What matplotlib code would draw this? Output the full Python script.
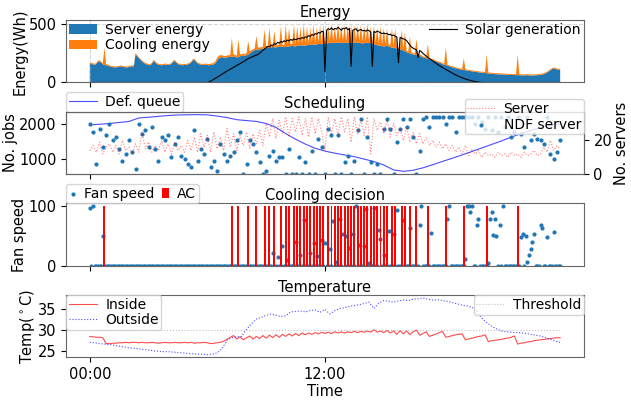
import numpy as np
import matplotlib
matplotlib.use("Agg")
import matplotlib.pyplot as plt

plt.rcParams["font.size"] = 10
plt.rcParams["axes.edgecolor"] = "0.4"
plt.rcParams["xtick.labelsize"] = 10.5
plt.rcParams["ytick.labelsize"] = 10.5
plt.rcParams["axes.titlesize"] = 10.5
plt.rcParams["axes.titlepad"] = 2.5
plt.rcParams["axes.labelsize"] = 10.5
plt.rcParams["axes.labelpad"] = 1

# === DATA (one day, hours since 00:00) ===
t5 = np.arange(289) / 12    # 5-min slots
t10 = np.arange(145) / 6    # 10-min slots
t15 = np.arange(97) / 4     # 15-min slots
t30 = np.arange(49) / 2     # 30-min slots

# energy per 5-min slot (Wh), one row per hour
server_energy = [
    162, 160, 156, 152, 160, 178, 182, 170, 158, 150, 148, 145,
    140, 135, 132, 130, 130, 132, 135, 138, 135, 132, 130, 130,
    132, 135, 138, 140, 242, 228, 210, 195, 180, 170, 160, 155,
    150, 148, 160, 185, 175, 160, 152, 150, 148, 150, 155, 152,
    150, 152, 160, 178, 185, 170, 158, 152, 150, 148, 152, 150,
    155, 160, 170, 190, 195, 178, 165, 158, 152, 150, 152, 155,
    150, 148, 150, 152, 158, 165, 190, 205, 215, 218, 215, 212,
    215, 220, 218, 222, 225, 220, 215, 218, 225, 228, 232, 230,
    235, 240, 250, 262, 270, 278, 282, 285, 284, 288, 290, 292,
    295, 298, 300, 302, 305, 303, 300, 305, 308, 310, 306, 304,
    305, 308, 310, 312, 315, 312, 310, 314, 318, 320, 318, 316,
    318, 320, 322, 325, 328, 326, 324, 328, 330, 332, 330, 328,
    332, 335, 338, 340, 342, 340, 338, 342, 345, 343, 340, 338,
    340, 342, 345, 343, 340, 338, 342, 345, 343, 340, 338, 336,
    338, 340, 342, 340, 336, 334, 330, 325, 320, 318, 315, 312,
    310, 312, 315, 310, 305, 300, 298, 295, 292, 288, 285, 280,
    275, 268, 260, 255, 250, 245, 240, 238, 235, 232, 228, 225,
    215, 212, 208, 205, 200, 196, 192, 186, 180, 175, 170, 165,
    158, 154, 150, 146, 140, 135, 130, 126, 122, 118, 115, 112,
    110, 108, 105, 102, 100, 98, 96, 94, 92, 90, 88, 86,
    85, 84, 82, 80, 78, 76, 75, 74, 72, 72, 70, 70,
    70, 69, 68, 67, 66, 66, 65, 65, 64, 64, 63, 63,
    62, 62, 61, 62, 63, 62, 60, 60, 61, 62, 63, 64,
    65, 68, 72, 78, 85, 95, 105, 115, 120, 118, 112, 110,
    110,
]

cooling_energy = [
    8, 8, 9, 8, 8, 9, 8, 8, 9, 150, 10, 9,
    8, 8, 8, 9, 8, 8, 8, 9, 8, 8, 8, 8,
    8, 9, 8, 8, 9, 8, 8, 8, 9, 8, 8, 8,
    8, 8, 9, 8, 8, 8, 9, 8, 8, 8, 9, 8,
    8, 8, 8, 9, 8, 8, 9, 8, 8, 8, 8, 9,
    8, 9, 8, 8, 8, 9, 8, 8, 9, 8, 8, 8,
    10, 10, 12, 12, 14, 18, 22, 25, 20, 16, 14, 15,
    15, 16, 15, 163, 18, 16, 15, 152, 18, 16, 15, 16,
    16, 116, 18, 16, 15, 16, 118, 17, 16, 15, 16, 165,
    18, 16, 170, 17, 16, 140, 18, 16, 17, 175, 16, 17,
    190, 17, 160, 18, 16, 185, 17, 170, 18, 155, 17, 184,
    18, 160, 17, 150, 18, 170, 17, 145, 18, 155, 17, 165,
    18, 17, 150, 18, 160, 17, 140, 18, 165, 17, 150, 18,
    155, 18, 140, 17, 160, 18, 150, 17, 145, 18, 158, 17,
    150, 18, 160, 17, 145, 18, 155, 17, 150, 18, 165, 17,
    160, 17, 150, 16, 15, 165, 16, 170, 15, 14, 15, 175,
    14, 165, 13, 12, 150, 12, 11, 12, 140, 12, 11, 10,
    10, 9, 10, 125, 10, 9, 9, 10, 9, 9, 8, 9,
    9, 8, 150, 9, 8, 8, 9, 8, 8, 9, 8, 8,
    8, 100, 8, 8, 9, 8, 8, 8, 9, 8, 8, 8,
    8, 8, 8, 160, 8, 8, 9, 8, 8, 8, 9, 8,
    8, 8, 9, 8, 8, 8, 9, 8, 8, 8, 178, 8,
    8, 8, 8, 9, 8, 8, 8, 9, 8, 8, 8, 8,
    8, 9, 8, 8, 8, 9, 8, 8, 9, 8, 8, 9,
    8,
]

solar_generation = [
    0, 0, 0, 0, 0, 0, 0, 0, 0, 0, 0, 0,
    0, 0, 0, 0, 0, 0, 0, 0, 0, 0, 0, 0,
    0, 0, 0, 0, 0, 0, 0, 0, 0, 0, 0, 0,
    0, 0, 0, 0, 0, 0, 0, 0, 0, 0, 0, 0,
    0, 0, 0, 0, 0, 0, 0, 0, 0, 0, 0, 0,
    0, 0, 0, 0, 0, 0, 0, 0, 0, 0, 0, 0,
    0, 4, 12, 20, 28, 36, 45, 54, 62, 71, 80, 89,
    98, 106, 114, 122, 130, 138, 146, 154, 162, 170, 178, 186,
    198, 205, 211, 218, 224, 230, 236, 241, 252, 264, 276, 288,
    299, 310, 305, 322, 318, 333, 328, 345, 338, 352, 346, 358,
    352, 365, 358, 370, 362, 375, 368, 372, 380, 374, 386, 380,
    392, 388, 402, 396, 412, 405, 420, 415, 430, 424, 440, 436,
    95, 448, 462, 455, 470, 452, 465, 458, 474, 462, 448, 466,
    460, 472, 452, 465, 140, 448, 455, 462, 440, 450, 455, 444,
    448, 440, 452, 445, 432, 140, 438, 430, 442, 435, 428, 420,
    425, 418, 422, 410, 415, 402, 408, 398, 392, 170, 388, 380,
    375, 370, 360, 340, 320, 305, 295, 288, 280, 215, 275, 265,
    250, 238, 225, 215, 205, 195, 185, 175, 165, 155, 147, 138,
    128, 120, 112, 104, 96, 88, 80, 72, 65, 58, 52, 46,
    40, 35, 30, 26, 22, 18, 14, 11, 8, 6, 4, 2,
    1, 0, 0, 0, 0, 0, 0, 0, 0, 0, 0, 0,
    0, 0, 0, 0, 0, 0, 0, 0, 0, 0, 0, 0,
    0, 0, 0, 0, 0, 0, 0, 0, 0, 0, 0, 0,
    0, 0, 0, 0, 0, 0, 0, 0, 0, 0, 0, 0,
    0,
]

# deferrable job queue, every 30 min
def_queue = [
    1971, 1990, 2010, 2040, 2070, 2170, 2190, 2215, 2240, 2255,
    2262, 2265, 2258, 2225, 2180, 2120, 2095, 2070, 2010, 1900,
    1720, 1560, 1420, 1300, 1220, 1160, 1110, 1060, 990, 920,
    820, 680, 640, 670, 740, 830, 925, 1015, 1110, 1210,
    1310, 1410, 1510, 1620, 1720, 1810, 1900, 1960, 2000,
]

# active servers, every 10 min
servers = [
    14, 17, 13, 19, 12, 16,
    18, 13, 17, 12, 20, 14,
    16, 12, 18, 13, 25, 15,
    19, 13, 17, 14, 20, 13,
    18, 12, 19, 14, 17, 13,
    20, 14, 22, 13, 24, 16,
    23, 13, 25, 15, 22, 14,
    27, 16, 24, 14, 23, 17,
    25, 15, 24, 18, 26, 17,
    30, 22, 33, 21, 32, 24,
    34, 22, 33, 25, 34, 23,
    33, 22, 34, 24, 33, 25,
    14, 34, 24, 33, 23, 34,
    25, 33, 19, 34, 24, 32,
    23, 34, 12, 33, 26, 31,
    24, 32, 22, 30, 23, 27,
    20, 28, 19, 25, 18, 24,
    18, 22, 17, 20, 16, 19,
    15, 18, 14, 17, 13, 16,
    12, 17, 11, 15, 12, 14,
    10, 13, 11, 12, 10, 13,
    11, 12, 10, 13, 11, 12,
    10, 13, 11, 12, 14, 11,
    12, 16, 13, 20, 14, 17,
    15,
]

ndf_servers = [
    30, 25, 6, 27, 16, 23,
    30, 20, 22, 15, 8, 12,
    20, 13, 3, 30, 24, 26,
    16, 28, 15, 8, 22, 20,
    23, 10, 18, 22, 11, 9,
    6, 4, 26, 8, 15, 12,
    21, 4, 8, 2, 18, 12,
    8, 11, 13, 20, 25, 0,
    6, 20, 18, 13, 7, 0,
    2, 11, 14, 8, 10, 10,
    0, 15, 0, 0, 10, 0,
    7, 0, 14, 0, 21, 16,
    0, 27, 23, 0, 23, 0,
    7, 11, 0, 8, 26, 33,
    0, 22, 7, 0, 6, 0,
    27, 33, 27, 0, 19, 27,
    33, 28, 33, 22, 0, 14,
    33, 34, 28, 34, 34, 34,
    34, 30, 34, 34, 25, 34,
    34, 34, 34, 34, 30, 34,
    31, 27, 34, 26, 34, 25,
    34, 28, 34, 22, 25, 34,
    24, 16, 34, 20, 24, 21,
    20, 18, 34, 12, 9, 13,
    20,
]

# fan speed (%) per 5-min slot
fan_speed = [
    97, 0, 100, 0, 0, 0, 0, 0, 50, 0, 0, 0,
    0, 0, 0, 0, 0, 0, 0, 0, 0, 0, 0, 0,
    0, 0, 0, 0, 0, 0, 0, 0, 0, 0, 0, 0,
    0, 0, 0, 0, 0, 0, 0, 0, 0, 0, 0, 0,
    0, 0, 0, 0, 0, 0, 0, 0, 0, 0, 0, 0,
    0, 0, 0, 0, 0, 0, 0, 0, 0, 0, 0, 0,
    0, 0, 0, 0, 0, 0, 0, 0, 0, 0, 0, 0,
    0, 0, 0, 0, 0, 0, 0, 0, 0, 0, 0, 0,
    0, 0, 0, 0, 0, 0, 0, 0, 0, 0, 0, 0,
    0, 0, 0, 0, 21, 0, 0, 15, 0, 0, 33, 0,
    0, 10, 0, 0, 0, 0, 40, 0, 0, 19, 0, 77,
    0, 0, 0, 22, 0, 39, 0, 16, 0, 0, 44, 0,
    39, 0, 0, 28, 0, 76, 0, 7, 0, 79, 0, 54,
    0, 50, 0, 30, 0, 54, 0, 100, 0, 35, 0, 0,
    33, 95, 0, 4, 0, 0, 97, 0, 0, 61, 45, 0,
    18, 0, 0, 59, 0, 0, 53, 0, 94, 0, 0, 0,
    77, 0, 0, 0, 63, 0, 0, 0, 0, 0, 68, 100,
    0, 0, 0, 0, 0, 55, 0, 0, 0, 0, 0, 0,
    0, 0, 0, 79, 100, 0, 0, 0, 0, 0, 0, 0,
    0, 0, 12, 100, 100, 90, 100, 0, 0, 68, 78, 0,
    0, 0, 0, 0, 4, 78, 90, 52, 78, 51, 0, 68,
    0, 100, 0, 0, 0, 0, 0, 0, 0, 0, 0, 0,
    49, 54, 0, 51, 7, 19, 29, 40, 54, 0, 0, 0,
    68, 63, 0, 0, 49, 0, 0, 0, 57, 0, 0, 0,
    0,
]

ac_times = [
    "00:45", "07:15", "07:35", "08:05", "08:30", "08:55", "09:10", "09:25",
    "09:45", "10:00", "10:10", "10:25", "10:35", "10:45", "10:55", "11:05",
    "11:15", "11:25", "11:35", "11:45", "11:55", "12:10", "12:20", "12:30",
    "12:40", "12:50", "13:00", "13:10", "13:20", "13:30", "13:40", "13:50",
    "14:00", "14:10", "14:20", "14:30", "14:40", "14:50", "15:00", "15:10",
    "15:25", "15:35", "15:55", "16:05", "16:20", "16:40", "17:15", "18:10",
    "19:05", "20:15", "21:50",
]
ac_level = 100

# temperatures (C)
inside_temp = [
    28.5, 28.4, 28.3, 28.3, 28.2, 26.8,
    26.8, 26.9, 26.9, 27.0, 27.0, 27.1,
    27.0, 27.1, 27.1, 27.0, 27.1, 27.0,
    27.0, 27.1, 27.0, 26.9, 27.0, 27.1,
    27.0, 27.0, 27.1, 27.0, 27.0, 27.1,
    27.0, 27.1, 26.9, 27.0, 27.0, 27.1,
    27.0, 26.8, 26.9, 27.0, 27.1, 27.4,
    27.8, 28.3, 28.7, 27.9, 28.4, 27.7,
    28.2, 28.6, 27.9, 28.5, 28.0, 28.7,
    28.1, 28.8, 28.2, 28.9, 28.3, 29.0,
    28.5, 29.1, 28.6, 29.2, 28.7, 29.3,
    28.9, 29.3, 29.0, 29.4, 29.1, 29.5,
    29.2, 29.5, 29.2, 29.6, 29.3, 29.6,
    29.3, 29.6, 29.4, 29.7, 29.4, 29.7,
    29.5, 29.8, 29.5, 30.1, 29.5, 29.8,
    29.4, 29.9, 29.3, 29.8, 29.0, 29.9,
    29.1, 29.8, 28.9, 29.6, 30.0, 28.8,
    29.2, 29.6, 28.5, 28.8, 29.1, 29.4,
    29.7, 28.3, 28.5, 28.7, 28.9, 29.0,
    29.1, 27.7, 27.9, 28.1, 28.3, 28.5,
    28.6, 28.9, 27.3, 27.5, 27.6, 27.7,
    27.8, 28.0, 28.1, 28.3, 28.6, 26.7,
    26.9, 27.0, 27.2, 27.3, 27.5, 27.6,
    27.7, 27.8, 27.9, 28.0, 28.1, 28.2,
    28.2,
]

outside_temp = [
    27.1, 27.0, 26.8, 26.7,
    26.6, 26.4, 26.2, 26.0,
    25.8, 25.7, 25.6, 25.4,
    25.3, 25.1, 25.0, 24.9,
    24.9, 24.8, 24.7, 24.6,
    24.5, 24.4, 24.3, 24.3,
    24.2, 24.3, 24.6, 25.6,
    27.6, 28.2, 28.4, 28.5,
    30.2, 31.5, 32.6, 33.0,
    33.5, 33.8, 33.5, 33.2,
    33.4, 34.3, 34.4, 34.5,
    34.3, 34.6, 34.8, 34.2,
    34.9, 33.8, 34.6, 35.1,
    35.3, 35.6, 35.8, 36.0,
    36.3, 36.6, 35.1, 36.4,
    37.0, 36.8, 36.6, 36.9,
    37.1, 37.0, 37.3, 37.4,
    37.6, 37.3, 37.1, 37.2,
    37.0, 36.8, 36.5, 36.2,
    35.9, 35.7, 35.4, 34.6,
    32.8, 31.8, 30.9, 30.3,
    29.8, 29.6, 29.5, 29.4,
    29.4, 29.2, 29.0, 28.8,
    28.6, 28.2, 27.8, 27.4,
    27.1,
]

threshold = 30

ac_hours = [int(s[:2]) + int(s[3:]) / 60 for s in ac_times]
threshold_line = [threshold] * len(t10)

# === FIGURE ===
fig, (ax1, ax2, ax3, ax4) = plt.subplots(4, 1, sharex=True, figsize=(6.31, 4.03), dpi=100)
fig.subplots_adjust(left=0.105, right=0.925, top=0.95, bottom=0.113, hspace=0.47)

leg_kw = dict(borderaxespad=0, borderpad=0.2, labelspacing=0.1, handletextpad=0.6)

# --- Energy ---
stack = ax1.stackplot(t5, server_energy, cooling_energy, colors=["C0", "C1"],
                      labels=["Server energy", "Cooling energy"])
solar, = ax1.plot(t5, solar_generation, color="k", lw=0.8, label="Solar generation")
ax1.grid(True, linestyle="--", alpha=0.5)
ax1.set_title("Energy")
ax1.set_ylabel("Energy(Wh)")
ax1.set_yticks([0, 500])
leg = ax1.legend(handles=stack, loc="upper left", frameon=False, **leg_kw)
ax1.add_artist(leg)
ax1.legend(handles=[solar], loc="upper right", frameon=False, **leg_kw)

# --- Scheduling ---
ax2.plot(t30, def_queue, color="b", alpha=0.7, lw=0.8, label="Def. queue")
ax2.set_title("Scheduling")
ax2.set_ylabel("No. jobs")
ax2.set_yticks([1000, 2000])
ax2.legend(loc="lower left", bbox_to_anchor=(0, 1), **leg_kw)
ax2r = ax2.twinx()
ax2r.plot(t10, servers, color="r", ls=":", alpha=0.5, lw=0.8, label="Server")
ax2r.scatter(t10, ndf_servers, s=4, color="C0", label="NDF server")
ax2r.set_ylim(0, 37)
ax2r.set_yticks([0, 20])
ax2r.set_ylabel("No. servers")
ax2r.legend(loc="upper right", bbox_to_anchor=(1, 1.2), **leg_kw)

# --- Cooling decision ---
ax3.scatter(t5, fan_speed, s=4, color="C0", label="Fan speed")
ax3.bar(ac_hours, ac_level, width=0.1, color="r", linewidth=0, label="AC")
ax3.set_title("Cooling decision")
ax3.set_ylabel("Fan speed")
ax3.set_yticks([0, 100])
ax3.legend(loc="lower left", bbox_to_anchor=(0, 1), ncol=2, handlelength=0.5,
           columnspacing=0.5, **leg_kw)

# --- Temperature ---
ln_in, = ax4.plot(t10, inside_temp, color="r", alpha=0.7, lw=0.8, label="Inside")
ln_out, = ax4.plot(t15, outside_temp, color="b", ls=":", alpha=0.7, lw=0.8, label="Outside")
ln_thr, = ax4.plot(t10, threshold_line, color="0.6", ls=":", alpha=0.6, lw=0.8, label="Threshold")
ax4.set_title("Temperature")
ax4.set_ylabel(r"Temp($^\circ$C)")
ax4.set_xlabel("Time")
ax4.set_yticks([25, 30, 35])
leg4 = ax4.legend(handles=[ln_in, ln_out], loc="upper left", **leg_kw)
ax4.add_artist(leg4)
ax4.legend(handles=[ln_thr], loc="upper right", **leg_kw)
ax4.set_xticks([0, 12])
ax4.set_xticklabels(["00:00", "12:00"])

fig.savefig("out.png", dpi=100)
